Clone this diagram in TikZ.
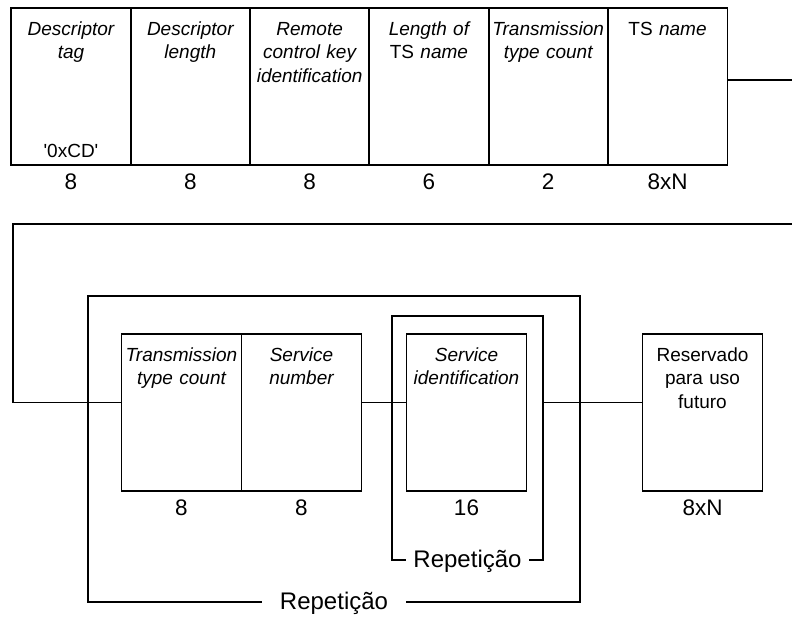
\documentclass[tikz,border=0pt]{standalone}
\usepackage{fontspec}
\setmainfont{Liberation Sans}
\usepackage{tikz}

\tikzset{
  campo/.style={draw, line width=1.2pt, minimum width=120pt, minimum height=157pt, inner sep=0pt},
  rotulo/.style={anchor=base, text width=124pt, align=center, inner sep=0pt, font=\fontsize{19}{23.3}\selectfont},
  bits/.style={anchor=base, inner sep=0pt, font=\fontsize{22.5}{26}\selectfont},
  repet/.style={draw, line width=1.2pt, inner sep=0pt},
  reptexto/.style={anchor=base, fill=white, inner xsep=7pt, inner ysep=2pt, font=\fontsize{24}{28}\selectfont},
  linha/.style={line width=1.2pt}
}

\begin{document}
\begin{tikzpicture}[x=1pt, y=-1pt]
    \useasboundingbox (0,0) rectangle (792,619);

    % 1. PRIMEIRA LINHA DE CAMPOS
    \foreach \i/\t/\n in {
        0/{\itshape Descriptor\\tag}/8,
        1/{\itshape Descriptor\\length}/8,
        2/{\itshape Remote\\control key\\identification}/8,
        3/{\itshape Length of\\{\upshape TS} name}/6,
        4/{\itshape Transmission\\type count}/2,
        5/{TS {\itshape name}}/8xN
    } {
        \node[campo] (f\i) at ({71+119.3*\i}, 86.5) {};
        \node[rotulo] (r\i) at ([yshift=-28pt]f\i.north) {\t};
        \node[bits] (b\i) at ([yshift=-24pt]f\i.south) {\n};
    }
    \node[rotulo] (tag) at ([yshift=8pt]f0.south) {\textquotesingle 0xCD\textquotesingle};

    % 2. PONTOS DE LIGACAO ENTRE AS DUAS LINHAS
    \coordinate (saida) at (792, 80);
    \coordinate (volta) at (792, 224);
    \coordinate (canto) at (13, 224);

    % 3. BLOCOS DE REPETICAO E SEGUNDA LINHA DE CAMPOS
    \node[repet, minimum width=492pt, minimum height=306pt] (rep1) at (334, 449) {};
    \node[repet, minimum width=151pt, minimum height=244pt] (rep2) at (467.5, 438) {};
    \foreach \nome/\x/\t/\n in {
        tc/181.5/{\itshape Transmission\\type count}/8,
        sn/301.5/{\itshape Service\\number}/8,
        si/466.5/{\itshape Service\\identification}/16,
        res/702.5/{Reservado\\para uso\\futuro}/8xN
    } {
        \node[campo] (\nome) at (\x, 412.5) {};
        \node[rotulo] (r\nome) at ([yshift=-28pt]\nome.north) {\t};
        \node[bits] (b\nome) at ([yshift=-24pt]\nome.south) {\n};
    }
    \node[reptexto, inner xsep=18pt] (lrep1) at ([yshift=-7pt]rep1.south) {Repetição};
    \node[reptexto] (lrep2) at ([yshift=-7pt]rep2.south) {Repetição};

    % 4. LINHAS
    \coordinate (tcin) at ([yshift=10pt]tc.west);
    \coordinate (resin) at ([yshift=10pt]res.west);
    \draw[linha] ([yshift=6.5pt]f5.east) -- (saida);
    \draw[linha] (volta) -- (canto) |- (tcin);
    \draw[linha] ([yshift=10pt]sn.east) -- ([yshift=10pt]si.west);
    \draw[linha] (resin -| rep2.east) -- (resin);

\end{tikzpicture}
\end{document}
